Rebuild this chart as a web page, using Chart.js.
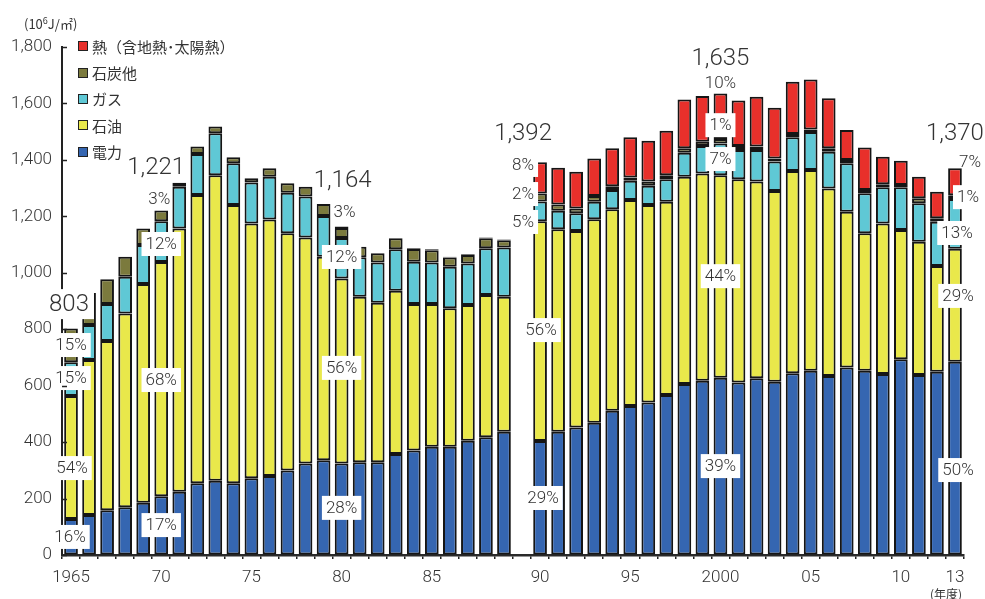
<!DOCTYPE html>
<html lang="ja">
<head>
<meta charset="utf-8">
<script src="https://cdn.jsdelivr.net/npm/chart.js@4.4.1/dist/chart.umd.min.js"></script>
<style>
  html, body { margin: 0; padding: 0; background: #fff; }
  #wrap { position: relative; width: 985px; height: 599px; overflow: hidden; }
  #chartCanvas { position: absolute; left: 0; top: 0; }
  .unit { position: absolute; left: 24px; top: 14px; font: 13px "Noto Sans CJK JP", sans-serif; color: #333; }
  .unit sup { font-size: 9px; }
  .nendo { position: absolute; left: 930px; top: 585px; font: 12px "Noto Sans CJK JP", sans-serif; color: #333; }
  .legend { position: absolute; left: 78px; top: 33px; font: 15px "Noto Sans CJK JP", sans-serif; color: #333; }
  .legend div { height: 26.4px; display: flex; align-items: center; }
  .legend span.sw { display: inline-block; width: 8px; height: 8px; border: 1px solid #222; margin-right: 4px; }
</style>
</head>
<body>
<div id="wrap">
  <canvas id="chartCanvas" width="985" height="599"></canvas>
  <div class="unit">(10<sup>6</sup>J/㎡)</div>
  <div class="legend" id="legend"></div>
  <div class="nendo">(年度)</div>
</div>
<script>
// 業務部門のエネルギー源別消費原単位（1965-1989 と 1990-2013 の間は統計の断絶）

const categories = [
  '1965','1966','1967','1968','1969','1970','1971','1972','1973','1974',
  '1975','1976','1977','1978','1979','1980','1981','1982','1983','1984',
  '1985','1986','1987','1988','1989','',
  '1990','1991','1992','1993','1994','1995','1996','1997','1998','1999',
  '2000','2001','2002','2003','2004','2005','2006','2007','2008','2009',
  '2010','2011','2012','2013'
];

const tickYears = ['1965','1970','1975','1980','1985','1990','1995','2000','2005','2010','2013'];
const tickTexts = ['1965','70','75','80','85','90','95','2000','05','10','13'];

const denryoku = [
  128,142,159,169,185,208,224,254,263,254,
  272,280,299,324,336,324,329,329,358,370,
  384,384,405,417,437,null,
  404,437,452,469,511,528,540,567,606,617,
  628,611,626,614,644,653,634,664,653,641,
  694,638,649,685
];
const sekiyu = [
  435,549,599,687,775,830,933,1022,1083,986,
  903,909,841,801,721,656,586,565,578,519,
  505,490,481,504,478,null,
  779,717,696,721,714,730,700,685,734,735,
  718,720,697,676,717,711,665,552,487,534,
  458,472,375,400
];
const gas = [
  120,124,131,130,138,145,148,145,148,148,
  145,151,144,145,144,143,140,142,147,150,
  147,147,147,166,175,null,
  70,66,63,62,68,68,68,79,85,97,
  112,104,112,104,119,135,130,172,142,128,
  151,136,157,176
];
const sekitan = [
  120,113,88,71,59,38,14,26,24,21,
  15,30,33,35,43,36,37,33,39,45,
  44,33,30,35,25,null,
  28,22,17,20,14,12,15,15,16,15,
  16,14,12,11,12,9,12,12,11,11,
  8,18,12,14
];
const netsu = [
  0,0,0,0,0,0,0,0,0,0,
  0,0,0,0,0,5,0,0,0,3,
  3,3,3,3,3,null,
  111,130,130,133,134,142,145,157,173,162,
  161,161,177,180,185,177,177,106,151,97,
  86,76,94,95
];

const seriesNames = ['電力', '石油', 'ガス', '石炭他', '熱（含地熱･太陽熱）'];
const seriesColors = ['#3566b1', '#e9e84b', '#5fc8d5', '#7b7a3d', '#e8302b'];

// 注記: [年度, 文字, 値の位置, x方向のずれ(px), 白地の有無, 種類]
const notes = [
  ['1965', '803', 889, -2, true, 'total'],
  ['1965', '15%', 744, 0, true, 'pct'],
  ['1965', '15%', 627, 0, true, 'pct'],
  ['1965', '54%', 308, 1, true, 'pct'],
  ['1965', '16%', 64, -1, true, 'pct'],
  ['1970', '1,221', 1375, -5, false, 'total'],
  ['1970', '3%', 1261, -2, false, 'pct'],
  ['1970', '12%', 1102, 0, true, 'pct'],
  ['1970', '68%', 620, 0, true, 'pct'],
  ['1970', '17%', 106, 0, true, 'pct'],
  ['1980', '1,164', 1329, 1, false, 'total'],
  ['1980', '3%', 1215, 3, false, 'pct'],
  ['1980', '12%', 1056, 0, true, 'pct'],
  ['1980', '56%', 663, 0, true, 'pct'],
  ['1980', '28%', 167, 0, true, 'pct'],
  ['1990', '1,392', 1495, -17, false, 'total'],
  ['1990', '8%', 1382, -17, true, 'pct'],
  ['1990', '2%', 1279, -17, true, 'pct'],
  ['1990', '5%', 1180, -17, true, 'pct'],
  ['1990', '56%', 797, 1, true, 'pct'],
  ['1990', '29%', 202, 3, true, 'pct'],
  ['2000', '1,635', 1761, 0, false, 'total'],
  ['2000', '10%', 1672, 0, false, 'pct'],
  ['2000', '1%', 1523, 0, true, 'pct'],
  ['2000', '7%', 1403, 0, true, 'pct'],
  ['2000', '44%', 988, 0, true, 'pct'],
  ['2000', '39%', 315, 0, true, 'pct'],
  ['2013', '1,370', 1495, 0, false, 'total'],
  ['2013', '7%', 1392, 15, false, 'pct'],
  ['2013', '1%', 1268, 13, true, 'pct'],
  ['2013', '13%', 1141, 2, true, 'pct'],
  ['2013', '29%', 918, 3, true, 'pct'],
  ['2013', '50%', 301, 3, true, 'pct']
];

const seriesData = [denryoku, sekiyu, gas, sekitan, netsu];
const textFont = '"Roboto", "Liberation Sans", sans-serif';

// 凡例（上から 熱 → 電力）
const legendEl = document.getElementById('legend');
for (let i = seriesNames.length - 1; i >= 0; i--) {
  const row = document.createElement('div');
  row.innerHTML = `<span class="sw" style="background:${seriesColors[i]}"></span>${seriesNames[i]}`;
  legendEl.appendChild(row);
}

const axisMarks = {
  id: 'axisMarks',
  afterDraw(chart) {
    const { ctx, chartArea, scales } = chart;
    ctx.save();
    ctx.strokeStyle = '#222';
    ctx.lineWidth = 1.5;
    scales.y.ticks.forEach((t) => {
      const y = Math.round(scales.y.getPixelForValue(t.value)) + 0.5;
      ctx.beginPath();
      ctx.moveTo(chartArea.left, y);
      ctx.lineTo(chartArea.left + 5, y);
      ctx.stroke();
    });
    ctx.restore();
  }
};

const noteLabels = {
  id: 'noteLabels',
  afterDatasetsDraw(chart) {
    const { ctx, scales } = chart;
    ctx.save();
    ctx.textAlign = 'center';
    ctx.textBaseline = 'middle';
    notes.forEach(([year, text, v, dx, box, kind]) => {
      const x = scales.x.getPixelForValue(categories.indexOf(year)) + dx;
      const y = scales.y.getPixelForValue(v);
      const big = kind === 'total';
      ctx.font = big ? `300 24px ${textFont}` : `300 17px ${textFont}`;
      if (box) {
        const w = ctx.measureText(text).width + (big ? 10 : 8);
        const h = big ? 30 : 24;
        ctx.fillStyle = '#fff';
        ctx.fillRect(x - w / 2, y - h / 2, w, h);
      }
      ctx.fillStyle = '#333';
      ctx.fillText(text, x, y + 1);
    });
    ctx.restore();
  }
};

new Chart(document.getElementById('chartCanvas'), {
  type: 'bar',
  data: {
    labels: categories,
    datasets: seriesData.map((data, i) => ({
      label: seriesNames[i],
      data,
      backgroundColor: seriesColors[i],
      borderColor: '#151515',
      borderWidth: 2,
      borderSkipped: false,
      categoryPercentage: 1,
      barPercentage: 0.76
    }))
  },
  options: {
    responsive: false,
    animation: false,
    layout: { padding: { top: 47, right: 21, left: 0, bottom: 0 } },
    plugins: { legend: { display: false }, tooltip: { enabled: false } },
    scales: {
      x: {
        stacked: true,
        afterFit: (scale) => { scale.height = 44; },
        grid: { drawOnChartArea: false, offset: true, tickLength: 4, color: '#222', lineWidth: 1.5 },
        border: { display: true, color: '#2a2a2a', width: 2.5 },
        ticks: {
          autoSkip: false,
          maxRotation: 0,
          padding: 9,
          color: '#333',
          font: { family: textFont, size: 17, weight: 300 },
          callback: (val) => {
            const k = tickYears.indexOf(categories[val]);
            return k >= 0 ? tickTexts[k] : '';
          }
        }
      },
      y: {
        stacked: true,
        min: 0,
        max: 1800,
        afterFit: (scale) => { scale.width = 62; },
        grid: { display: true, drawOnChartArea: false, drawTicks: false },
        border: { display: true, color: '#222', width: 2 },
        ticks: {
          stepSize: 200,
          padding: 10,
          color: '#333',
          font: { family: textFont, size: 17, weight: 300 },
          callback: (v) => v.toLocaleString('en-US')
        }
      }
    }
  },
  plugins: [axisMarks, noteLabels]
});
</script>
</body>
</html>
